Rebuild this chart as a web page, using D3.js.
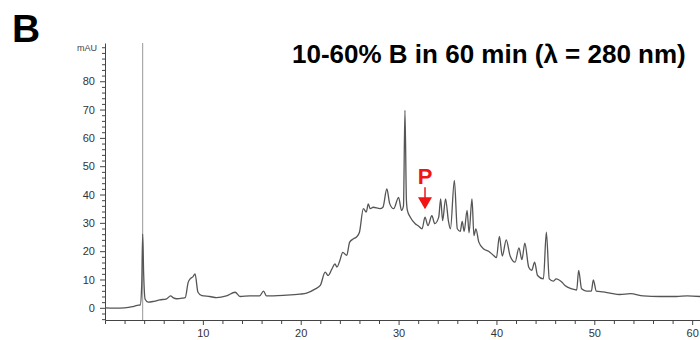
<!DOCTYPE html>
<html>
<head>
<meta charset="utf-8">
<script src="https://cdn.jsdelivr.net/npm/d3@7"></script>
<style>
  body { margin: 0; background: #fff; }
  svg { display: block; font-family: "Liberation Sans", Arial, sans-serif; }
</style>
</head>
<body>
<div id="chart"></div>
<script>
const width = 700;
const height = 340;

// retention time (min) and absorbance (mAU)
const time = [0, 1.0, 2.0, 2.8, 3.3, 3.6, 3.75, 3.85, 3.95, 4.1, 4.4, 5.0, 5.6, 6.3, 6.7, 7.0, 7.3, 7.9, 8.2, 8.5,
  8.7, 9.0, 9.2, 9.5, 9.9, 10.7, 11.4, 12.4, 13.3, 13.8, 14.8, 15.8, 16.2, 16.5, 18.2, 19.9, 20.6, 21.5, 22.0, 22.5,
  22.8, 23.2, 23.5, 23.7, 24.0, 24.3, 24.7, 25.0, 25.4, 25.7, 26.0, 26.4, 26.7, 26.9, 27.1, 27.4, 28.1, 28.4, 28.8, 29.1,
  29.5, 30.0, 30.3, 30.5, 30.65, 30.8, 30.9, 31.2, 31.7, 32.0, 32.4, 32.7, 33.0, 33.4, 33.7, 34.1, 34.3, 34.5, 34.8, 35.1,
  35.3, 35.7, 36.0, 36.3, 36.5, 36.7, 37.0, 37.2, 37.5, 37.7, 37.9, 38.2, 38.7, 39.2, 39.7, 40.0, 40.3, 40.6, 41.0, 41.4,
  41.9, 42.3, 42.6, 42.9, 43.3, 43.6, 43.9, 44.2, 44.8, 45.1, 45.4, 45.8, 46.1, 46.7, 47.0, 47.7, 48.2, 48.4, 48.7, 49.2,
  49.7, 49.9, 50.2, 50.9, 51.6, 52.6, 53.7, 55.0, 56.7, 58.4, 59.5, 60.8];
const absorbance = [0.0, -0.1, 0.0, 0.4, 0.9, 1.0, 8, 26, 12, 3, 2.0, 2.3, 2.8, 3.2, 4.2, 3.5, 3.2, 3.4, 3.6, 9,
  10.2, 11.0, 12, 5.5, 4.3, 4.0, 3.6, 4.2, 5.5, 4.0, 4.2, 4.2, 5.9, 4.2, 4.4, 4.8, 5.2, 6.7, 7.9, 12.6,
  11.4, 13.8, 15.5, 14.4, 16.7, 19.6, 18.5, 23.2, 24.4, 25, 26.7, 35, 33.8, 36.7, 35, 35.5, 35, 35.5, 42, 36.7,
  35, 39, 34.4, 36, 69.7, 38, 34.4, 32, 29.7, 29, 27.9, 32, 29, 32.5, 29.7, 32, 38.5, 30.8, 38.5, 30.5,
  27.9, 45, 27.9, 27, 30.5, 27, 34.4, 26.5, 38.5, 25.5, 27.9, 23.2, 20.8, 20, 18.5, 17.7, 25.2, 18.3, 24, 18.3,
  16.1, 21.2, 17, 22.8, 14.3, 13.2, 16.1, 11.4, 10.2, 26.7, 10.2, 9.4, 10.2, 9.0, 7.9, 6.7, 6.3, 13.2, 6.7, 5.9,
  5.9, 9.9, 5.9, 5.6, 5.2, 4.7, 5.0, 4.2, 4.0, 4.0, 4.2, 4.0];

const xTicks = d3.range(2, 61, 2);
const xLabels = [10, 20, 30, 40, 50, 60];
const yTicks = d3.range(-4, 93, 2);
const yLabels = [0, 10, 20, 30, 40, 50, 60, 70, 80];
const injectionTime = 3.85;
const markerTime = 32.7;
const markerValue = 32;

const svg = d3.select("#chart")
    .append("svg")
    .attr("width", width)
    .attr("height", height);

const x = d3.scaleLinear().domain([0, 60.8]).range([105, 700]);
const y = d3.scaleLinear().domain([-4.3, 93.5]).range([320, 43]);

// axes
const xAxis = d3.axisBottom(x)
    .tickValues(xTicks)
    .tickSizeOuter(0)
    .tickSize(4)
    .tickFormat(d => xLabels.includes(d) ? d : "");

const yAxis = d3.axisLeft(y)
    .tickValues(yTicks)
    .tickSizeOuter(0)
    .tickFormat(d => yLabels.includes(d) ? d : "");

const gx = svg.append("g")
    .attr("transform", `translate(0,${y.range()[0]})`)
    .call(xAxis);
gx.selectAll(".tick line")
    .attr("y2", d => xLabels.includes(d) ? 5 : 4);

const gy = svg.append("g")
    .attr("transform", `translate(${x(0)},0)`)
    .call(yAxis);
gy.selectAll(".tick line")
    .attr("x2", d => yLabels.includes(d) ? -5 : -3);

svg.selectAll(".domain, .tick line")
    .attr("stroke", "#444")
    .attr("stroke-width", 1);
svg.selectAll(".tick text")
    .attr("fill", "#333")
    .attr("font-size", 11);
gx.selectAll(".tick text").attr("dy", "0.9em");
gy.selectAll(".tick text").attr("dx", "-0.1em");

svg.append("text")
    .attr("x", x(0) - 8)
    .attr("y", y(91.5))
    .attr("text-anchor", "end")
    .attr("dominant-baseline", "middle")
    .attr("font-size", 9)
    .attr("fill", "#444")
    .text("mAU");

// injection marker
svg.append("line")
    .attr("x1", x(injectionTime))
    .attr("x2", x(injectionTime))
    .attr("y1", y(93.5))
    .attr("y2", y(-4.3))
    .attr("stroke", "#999")
    .attr("stroke-width", 1);

// trace
const line = d3.line()
    .x((d, i) => x(time[i]))
    .y(d => y(d))
    .curve(d3.curveMonotoneX);

svg.append("path")
    .datum(absorbance)
    .attr("fill", "none")
    .attr("stroke", "#555")
    .attr("stroke-width", 1.3)
    .attr("stroke-linejoin", "round")
    .attr("d", line);

// P marker
const px = x(markerTime);
const py = y(markerValue);
svg.append("text")
    .attr("x", px)
    .attr("y", py - 33)
    .attr("text-anchor", "middle")
    .attr("font-size", 22)
    .attr("font-weight", "bold")
    .attr("fill", "#f01414")
    .text("P");
svg.append("line")
    .attr("x1", px).attr("x2", px)
    .attr("y1", py - 30).attr("y2", py - 18)
    .attr("stroke", "#f01414")
    .attr("stroke-width", 1.5);
svg.append("path")
    .attr("d", `M${px - 7},${py - 20} L${px + 7},${py - 20} L${px},${py - 8} Z`)
    .attr("fill", "#f01414");

// titles
svg.append("text")
    .attr("x", 12)
    .attr("y", 42)
    .attr("font-size", 39)
    .attr("font-weight", "bold")
    .text("B");

svg.append("text")
    .attr("x", 292)
    .attr("y", 63)
    .attr("font-size", 26)
    .attr("font-weight", "bold")
    .text("10-60% B in 60 min (λ = 280 nm)");
</script>
</body>
</html>
